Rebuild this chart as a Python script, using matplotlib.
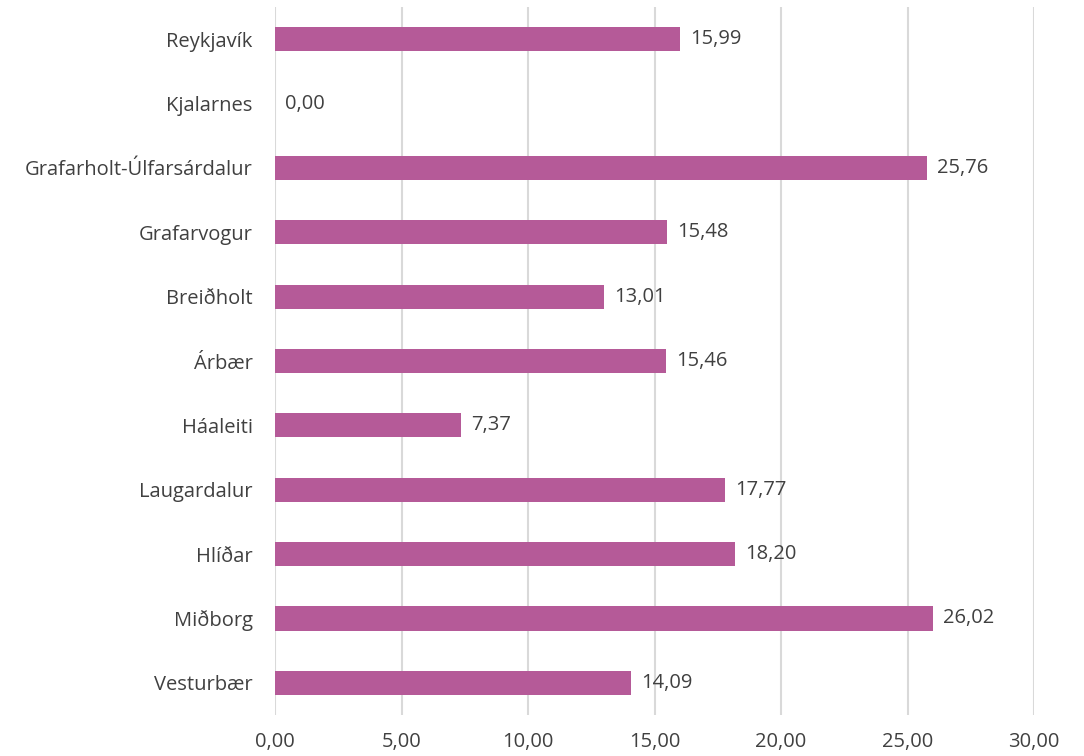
import numpy as np
import matplotlib
matplotlib.use('Agg')
import matplotlib.pyplot as plt

# 数据
districts = ['Reykjavík', 'Kjalarnes', 'Grafarholt-Úlfarsárdalur', 'Grafarvogur', 'Breiðholt',
             'Árbær', 'Háaleiti', 'Laugardalur', 'Hlíðar', 'Miðborg', 'Vesturbær']
values = [15.99, 0.00, 25.76, 15.48, 13.01, 15.46, 7.37, 17.77, 18.20, 26.02, 14.09]
x_ticks = [0, 5, 10, 15, 20, 25, 30]

plt.rcParams['font.family'] = ['Open Sans', 'DejaVu Sans']
text_color = '#404040'
bar_color = '#B55A98'
grid_color = '#D9D9D9'
fs = 14.5

fig = plt.figure(figsize=(10.84, 7.56), dpi=100)
ax = fig.add_axes([0.2537, 0.0542, 0.7002, 0.9365])

y_pos = np.arange(len(districts))
ax.barh(y_pos, values, height=0.375, color=bar_color, zorder=3)

for y, v in zip(y_pos, values):
    ax.text(v + 0.4, y, f'{v:.2f}'.replace('.', ','), va='center', ha='left',
            fontsize=fs, color=text_color)

ax.set_ylim(len(districts) - 0.5, -0.5)
ax.set_xlim(0, 30)
ax.set_yticks(y_pos)
ax.set_yticklabels(districts, fontsize=fs, color=text_color)
ax.set_xticks(x_ticks)
ax.set_xticklabels([f'{t:.2f}'.replace('.', ',') for t in x_ticks], fontsize=fs, color=text_color)
ax.tick_params(axis='both', length=0)
ax.tick_params(axis='y', pad=16)
ax.tick_params(axis='x', pad=12)

ax.grid(True, axis='x', color=grid_color, linewidth=1.5, zorder=0)
for s in ax.spines.values():
    s.set_visible(False)

fig.savefig('out.png', dpi=100)
